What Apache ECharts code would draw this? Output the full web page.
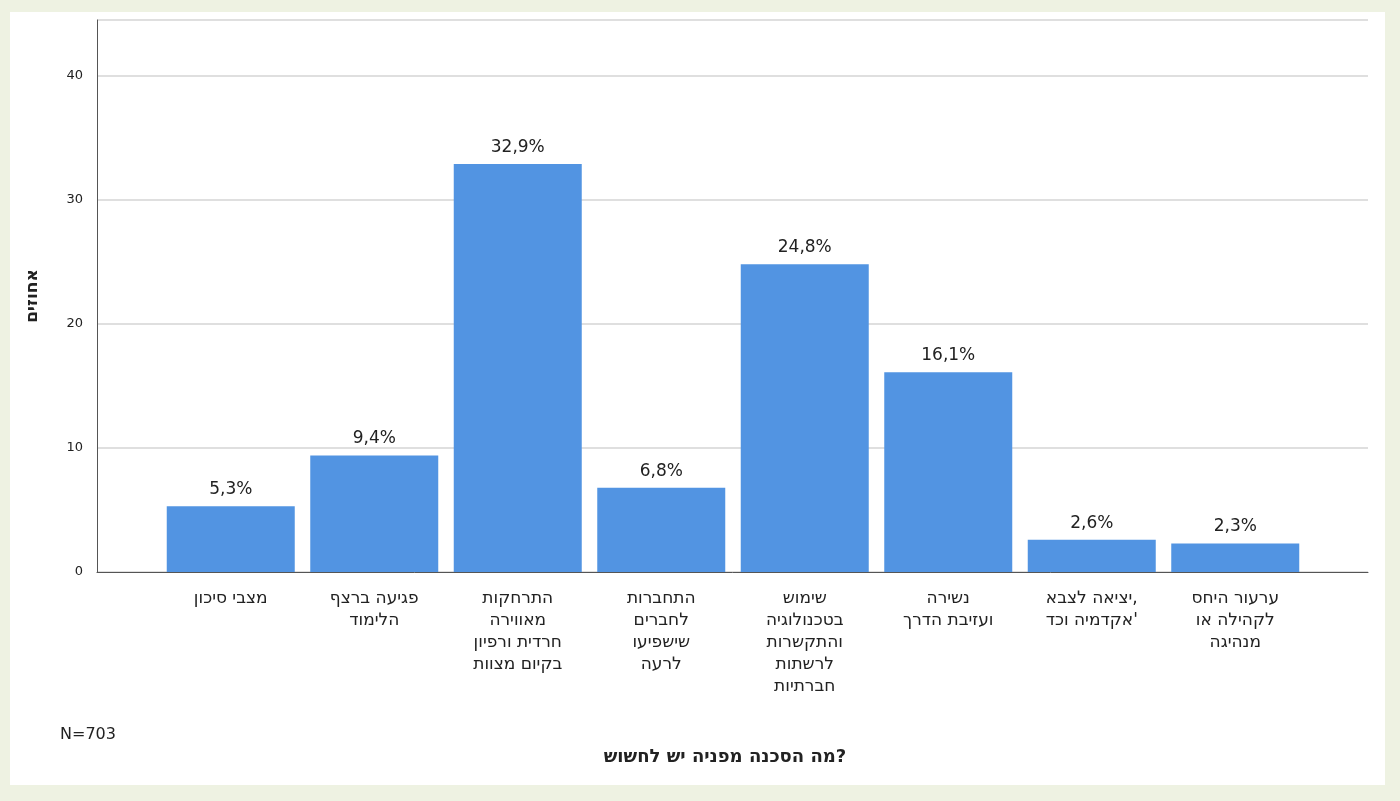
<!DOCTYPE html>
<html>
<head>
<meta charset="utf-8">
<script src="https://cdn.jsdelivr.net/npm/echarts@6/dist/echarts.min.js"></script>
<style>
  html, body { margin: 0; padding: 0; background: #eef2e2; }
  #frame { position: absolute; left: 10px; top: 12px; width: 1375px; height: 773px; background: #fff; }
  #chart { position: absolute; left: 0; top: 0; width: 1400px; height: 801px; }
</style>
</head>
<body>
<div id="frame"></div>
<div id="chart"></div>
<script>
const categories = [
  "מצבי סיכון",
  "פגיעה ברצף\nהלימוד",
  "התרחקות\nמאווירה\nחרדית ורפיון\nבקיום מצוות",
  "התחברות\nלחברים\nשישפיעו\nלרעה",
  "שימוש\nבטכנולוגיה\nוהתקשרות\nלרשתות\nחברתיות",
  "נשירה\nועזיבת הדרך",
  "יציאה לצבא,\nאקדמיה וכד'",
  "ערעור היחס\nלקהילה או\nמנהיגה"
];
const percents = [5.3, 9.4, 32.9, 6.8, 24.8, 16.1, 2.6, 2.3];
const yTicks = [0, 10, 20, 30, 40];

const font = "DejaVu Sans";
const chart = echarts.init(document.getElementById("chart"));
chart.setOption({
  animation: false,
  textStyle: { fontFamily: font },
  title: [
    { text: "מה הסכנה מפניה יש לחשוש?", left: 720, top: 743, textAlign: "center",
      textStyle: { fontSize: 18, fontWeight: "bold", color: "#222", fontFamily: font } },
    { text: "N=703", left: 55, top: 722,
      textStyle: { fontSize: 16, fontWeight: "normal", color: "#222", fontFamily: font } }
  ],
  grid: [
    { left: 97, right: 32, top: 20, bottom: 229 },
    { left: 159, right: 93, top: 20, bottom: 229 }
  ],
  xAxis: [
    { gridIndex: 0, type: "value", min: 0, max: 1, axisLabel: { show: false },
      axisTick: { show: false }, splitLine: { show: false },
      axisLine: { show: true, lineStyle: { color: "#555" } } },
    { gridIndex: 1, type: "category", data: categories,
      axisLine: { show: false }, axisTick: { show: false },
      axisLabel: { interval: 0, fontSize: 17, color: "#222", lineHeight: 22, margin: 16, fontFamily: font } }
  ],
  yAxis: [
    { gridIndex: 0, type: "value", min: 0, max: 44.5, interval: 10,
      name: "אחוזים", nameLocation: "middle", nameGap: 56, nameRotate: 90,
      nameTextStyle: { fontSize: 17, fontWeight: "bold", color: "#222" },
      axisLine: { show: true, lineStyle: { color: "#555" } },
      axisTick: { show: false },
      axisLabel: { fontSize: 13, color: "#222", margin: 14,
        formatter: v => yTicks.includes(v) ? String(v) : "" },
      splitLine: { lineStyle: { color: "#d4d4d4", width: 1.5 } } },
    { gridIndex: 1, type: "value", min: 0, max: 44.5, show: false }
  ],
  series: [{
    type: "bar", xAxisIndex: 1, yAxisIndex: 1,
    data: percents, barWidth: 128,
    itemStyle: { color: "#5294e2" },
    label: { show: true, position: "top", distance: 8, fontSize: 17, color: "#222",
      formatter: p => p.value.toFixed(1).replace(".", ",") + "%" }
  }]
});
</script>
</body>
</html>
